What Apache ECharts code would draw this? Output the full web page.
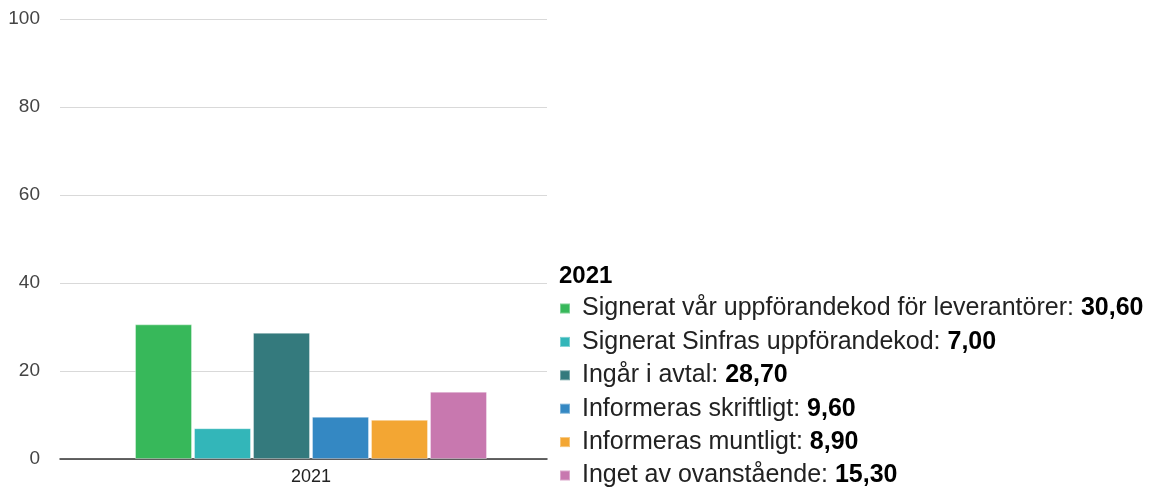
<!DOCTYPE html>
<html>
<head>
<meta charset="utf-8">
<title>2021</title>
<script src="https://cdn.jsdelivr.net/npm/echarts@6/dist/echarts.min.js"></script>
<style>
  html, body { margin: 0; padding: 0; background: #ffffff; }
  #chart { width: 1152px; height: 487px; }
</style>
</head>
<body>
<div id="chart"></div>
<script>
// Year shown on the category axis and as the legend heading
const categories = ['2021'];

// Answer options and their shares (percent)
const seriesNames = [
  'Signerat vår uppförandekod för leverantörer',
  'Signerat Sinfras uppförandekod',
  'Ingår i avtal',
  'Informeras skriftligt',
  'Informeras muntligt',
  'Inget av ovanstående'
];
const seriesValues = [30.6, 7.0, 28.7, 9.6, 8.9, 15.3];
const seriesColors = ['#37b85a', '#33b6b9', '#347a7d', '#3488c3', '#f3a633', '#c878af'];

// Value axis range
const yMin = 0;
const yMax = 100;
const yStep = 20;

const FONT = 'Arial, "Liberation Sans", sans-serif';

function fmt(v) {
  return v.toFixed(2).replace('.', ',');
}

const chart = echarts.init(document.getElementById('chart'), null, { renderer: 'canvas' });

const series = seriesNames.map((name, i) => ({
  name: name,
  type: 'bar',
  xAxisIndex: 1,
  yAxisIndex: 1,
  data: [seriesValues[i]],
  barWidth: 57,
  barGap: '3.5%',
  itemStyle: {
    color: seriesColors[i],
    borderColor: 'rgba(255,255,255,0.35)',
    borderWidth: 1
  },
  emphasis: { disabled: true }
}));

chart.setOption({
  animation: false,
  backgroundColor: '#ffffff',
  textStyle: { fontFamily: FONT },
  title: {
    text: categories[0],
    left: 559,
    top: 264,
    padding: 0,
    textStyle: { fontFamily: FONT, fontSize: 24, fontWeight: 'bold', color: '#000000' }
  },
  legend: {
    orient: 'vertical',
    left: 559,
    top: 296,
    height: 260,
    padding: 0,
    itemWidth: 10,
    itemHeight: 10,
    itemGap: 8.4,
    icon: 'rect',
    selectedMode: false,
    data: seriesNames,
    formatter: function (name) {
      const i = seriesNames.indexOf(name);
      return '{n|' + name + ': }{v|' + fmt(seriesValues[i]) + '}';
    },
    textStyle: {
      fontFamily: FONT,
      fontSize: 25,
      lineHeight: 25,
      padding: [0, 0, 0, 7],
      rich: {
        n: { fontFamily: FONT, fontSize: 25, color: '#222222', lineHeight: 25 },
        v: { fontFamily: FONT, fontSize: 25, fontWeight: 'bold', color: '#000000', lineHeight: 25 }
      }
    }
  },
  grid: [
    // frame: value scale, grid lines and baseline
    { left: 60, right: 605, top: 19, bottom: 28, containLabel: false },
    // bars
    { left: 75, right: 605, top: 19, bottom: 28, containLabel: false }
  ],
  xAxis: [
    {
      type: 'category',
      gridIndex: 0,
      data: categories,
      axisLine: { show: true, lineStyle: { color: '#333333', width: 1.5 } },
      axisTick: { show: false },
      axisLabel: { show: false },
      splitLine: { show: false }
    },
    {
      type: 'category',
      gridIndex: 1,
      data: categories,
      axisLine: { show: false },
      axisTick: { show: false },
      axisLabel: { fontFamily: FONT, fontSize: 18, color: '#222222', margin: 9 },
      splitLine: { show: false }
    }
  ],
  yAxis: [
    {
      type: 'value',
      gridIndex: 0,
      min: yMin,
      max: yMax,
      interval: yStep,
      axisLine: { show: false },
      axisTick: { show: false },
      axisLabel: { fontFamily: FONT, fontSize: 19, color: '#444444', margin: 20 },
      splitLine: { show: true, lineStyle: { color: '#d9d9d9', width: 1 } }
    },
    {
      type: 'value',
      gridIndex: 1,
      min: yMin,
      max: yMax,
      interval: yStep,
      show: false,
      splitLine: { show: false }
    }
  ],
  series: series
});
</script>
</body>
</html>
